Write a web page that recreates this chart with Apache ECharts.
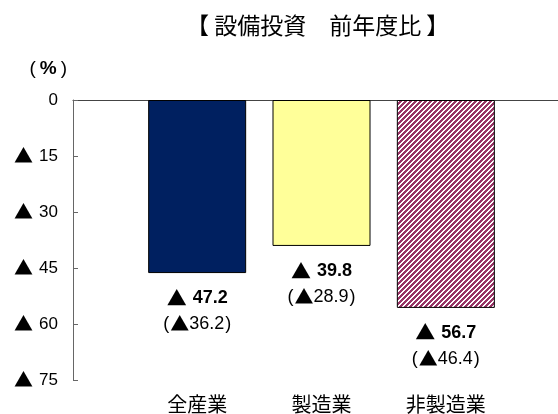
<!DOCTYPE html>
<html>
<head>
<meta charset="utf-8">
<script src="https://cdn.jsdelivr.net/npm/echarts@6/dist/echarts.min.js"></script>
<style>
  html, body { margin: 0; padding: 0; background: #fff; }
  #chart { width: 558px; height: 414px; }
</style>
</head>
<body>
<div id="chart"></div>
<script>
// 業種
var categories = ['全産業', '製造業', '非製造業'];
// 前年度比（%）マイナスは▲
var values = [-47.2, -39.8, -56.7];
// かっこ内の値
var prevValues = [-36.2, -28.9, -46.4];
var barColors = ['#002060', '#FFFF99', 'stripe'];

var font = '"Liberation Sans", "Noto Sans CJK JP", sans-serif';
var jpFont = '"Noto Sans CJK JP", sans-serif';

// 非製造業の斜線パターン
function makeStripe() {
  var n = 5;
  var c = document.createElement('canvas');
  c.width = n; c.height = n;
  var ctx = c.getContext('2d');
  ctx.fillStyle = '#ffffff';
  ctx.fillRect(0, 0, n, n);
  ctx.fillStyle = '#993366';
  for (var x = 0; x < n; x++) {
    for (var y = 0; y < n; y++) {
      if ((x + y) % n < 3) ctx.fillRect(x, y, 1, 1);
    }
  }
  return c;
}

var chart = echarts.init(document.getElementById('chart'));
var barData = values.map(function (v, i) {
  var color = barColors[i] === 'stripe' ? { image: makeStripe(), repeat: 'repeat' } : barColors[i];
  return { value: v, itemStyle: { color: color } };
});

chart.setOption({
  backgroundColor: '#ffffff',
  animation: false,
  title: {
    text: '【 設備投資　前年度比 】',
    left: 181,
    top: 9,
    textStyle: { fontFamily: jpFont, fontSize: 23, fontWeight: 'normal', color: '#000' }
  },
  grid: [
    { left: 135, right: 50, top: 100, bottom: 34 },
    { left: 73, right: 0, top: 100, bottom: 34 }
  ],
  xAxis: [
    {
      gridIndex: 0,
      type: 'category',
      data: categories,
      position: 'bottom',
      axisLine: { show: false, onZero: false },
      axisTick: { show: false },
      axisLabel: { margin: 19, fontFamily: jpFont, fontSize: 20, color: '#000' }
    },
    {
      gridIndex: 1,
      type: 'category',
      data: [''],
      position: 'top',
      axisLine: { show: true, lineStyle: { color: '#444', width: 1 } },
      axisTick: { show: false },
      axisLabel: { show: false }
    }
  ],
  yAxis: [
    {
      gridIndex: 0,
      type: 'value',
      min: -75, max: 0, interval: 15,
      show: false
    },
    {
      gridIndex: 1,
      type: 'value',
      min: -75, max: 0, interval: 15,
      name: '{p|(}{q|%}{p|)}',
      nameLocation: 'end',
      nameGap: 22,
      nameTextStyle: {
        align: 'right', padding: [0, 2, 0, 0],
        rich: {
          p: { fontFamily: font, fontSize: 19, color: '#000', padding: [0, 4, 0, 4] },
          q: { fontFamily: font, fontSize: 19, fontWeight: 'bold', color: '#000' }
        }
      },
      axisLine: { show: true, lineStyle: { color: '#666', width: 1 } },
      axisTick: { show: true, inside: true, length: 5, lineStyle: { color: '#666' } },
      splitLine: { show: false },
      axisLabel: {
        margin: 15,
        formatter: function (v) {
          return v < 0 ? '{t|▲}{n|' + Math.abs(v) + '}' : '{n|' + v + '}';
        },
        rich: {
          t: { fontFamily: jpFont, fontSize: 19, color: '#000', padding: [0, 6, 0, 0] },
          n: { fontFamily: font, fontSize: 17, color: '#000' }
        }
      }
    }
  ],
  series: [{
    type: 'bar',
    xAxisIndex: 0,
    yAxisIndex: 0,
    barWidth: 98,
    data: barData,
    itemStyle: { borderColor: '#000', borderWidth: 1 },
    label: {
      show: true,
      position: 'bottom',
      distance: 13,
      formatter: function (p) {
        return '{t|▲}{a|' + Math.abs(p.value) + '}\n' +
          '{p|(}{u|▲}{b|' + Math.abs(prevValues[p.dataIndex]) + '}{q|)}';
      },
      rich: {
        t: { fontFamily: jpFont, fontSize: 20, color: '#000', lineHeight: 24, padding: [0, 6, 0, 0] },
        a: { fontFamily: font, fontSize: 18, fontWeight: 'bold', color: '#000', lineHeight: 24 },
        p: { fontFamily: font, fontSize: 18, color: '#000', lineHeight: 28, padding: [0, 1, 0, 0] },
        q: { fontFamily: font, fontSize: 18, color: '#000', lineHeight: 28, padding: [0, 0, 0, 1] },
        u: { fontFamily: jpFont, fontSize: 19, color: '#000', lineHeight: 28 },
        b: { fontFamily: font, fontSize: 18, color: '#000', lineHeight: 28 }
      }
    }
  }]
});
</script>
</body>
</html>
